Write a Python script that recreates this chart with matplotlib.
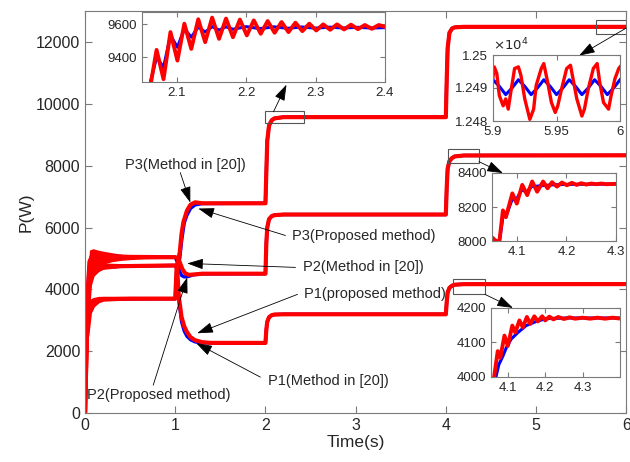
import numpy as np
import matplotlib.pyplot as plt
from matplotlib.patches import Rectangle

plt.rcParams['font.family'] = ['Liberation Sans', 'DejaVu Sans']

RED = '#ff0000'
BLUE = '#0000ff'
EDGE = '#7a7a7a'
TXT = '#262626'

# ---- main plot (t in s, P in W)
t_p3 = [0, 0.015, 0.03, 0.05, 0.07, 0.1, 0.2, 0.5, 1.0, 1.015, 1.03, 1.05, 1.07, 1.09, 1.13, 1.17, 1.22, 1.3,
        2.0, 2.01, 2.02, 2.04, 2.07, 2.1, 2.2, 4.0, 4.01, 4.02, 4.04, 4.07, 4.1, 4.2, 6.0]
p3_red = [0, 2000, 3300, 3600, 3350, 3550, 3690, 3700, 3700, 4700, 4900, 5200, 5800, 6170, 6550, 6740, 6815, 6784,
          6784, 7800, 8800, 9300, 9470, 9530, 9570, 9570, 10800, 11800, 12300, 12440, 12475, 12490, 12490]
t_p2 = [0, 0.015, 0.03, 0.05, 0.08, 0.2, 0.5, 1.0, 1.02, 1.04, 1.06, 1.08, 1.11, 1.15, 1.2, 1.3,
        2.0, 2.01, 2.02, 2.04, 2.07, 2.1, 2.2, 4.0, 4.01, 4.02, 4.04, 4.07, 4.1, 4.2, 6.0]
p2_red = [0, 2200, 4000, 4900, 5100, 5080, 5050, 5040, 5020, 4950, 4800, 4650, 4520, 4470, 4480, 4506,
          4506, 5500, 6000, 6270, 6370, 6400, 6420, 6420, 7300, 7900, 8150, 8250, 8300, 8330, 8335]
t_p1 = [0, 0.015, 0.03, 0.05, 0.08, 0.13, 0.2, 0.4, 1.0, 1.02, 1.04, 1.07, 1.1, 1.13, 1.17, 1.22, 1.3, 1.4,
        2.0, 2.01, 2.02, 2.04, 2.07, 2.1, 2.2, 4.0, 4.01, 4.02, 4.04, 4.07, 4.1, 4.2, 6.0]
p1_red = [0, 1800, 3500, 4200, 4450, 4600, 4700, 4750, 4774, 4700, 3750, 3106, 2800, 2620, 2450, 2355, 2290, 2268,
          2268, 2700, 2950, 3100, 3165, 3185, 3194, 3194, 3600, 3900, 4050, 4120, 4150, 4168, 4170]

# proposed method (blue) differs only in the t=1 transient
tb_p3 = [1.015, 1.03, 1.05, 1.07, 1.1, 1.13, 1.17, 1.22, 1.3]
p3_blue = [4600, 4750, 5000, 5550, 6150, 6400, 6620, 6730, 6775]
tb_p2 = [1.02, 1.04, 1.07, 1.1, 1.15, 1.2, 1.3]
p2_blue = [4900, 4650, 4450, 4400, 4420, 4470, 4500]
tb_p1 = [1.02, 1.04, 1.07, 1.1, 1.13, 1.17, 1.22, 1.3, 1.4]
p1_blue = [4650, 3650, 2950, 2650, 2480, 2370, 2300, 2270, 2268]

# oscillation envelopes during start-up (0..1 s)
t_band = [0.03, 0.06, 0.09, 0.15, 0.2, 0.3, 0.4, 0.5, 0.64, 0.8, 1.0]
p2_hi = [4200, 5250, 5280, 5230, 5200, 5150, 5100, 5075, 5050, 5045, 5040]
p2_lo = [3800, 4300, 4500, 4700, 4850, 4930, 4970, 4995, 5015, 5025, 5030]
p1_hi = [3800, 4450, 4650, 4780, 4820, 4810, 4800, 4795, 4790, 4790, 4785]
p1_lo = [3000, 4150, 4450, 4620, 4700, 4730, 4745, 4755, 4760, 4762, 4765]
p3_hi = [3500, 3650, 3700, 3740, 3740, 3735, 3730, 3725, 3720, 3720, 3720]
p3_lo = [2500, 3250, 3450, 3600, 3650, 3665, 3675, 3680, 3685, 3688, 3690]

# ---- inset A: P3 after t=2
ta_red = [2.061, 2.071, 2.081, 2.091, 2.101, 2.111, 2.121, 2.131, 2.141, 2.151, 2.161, 2.171, 2.181, 2.191,
          2.201, 2.211, 2.221, 2.231, 2.241, 2.251, 2.261, 2.271, 2.281, 2.291, 2.301, 2.311, 2.321, 2.331,
          2.341, 2.351, 2.361, 2.371, 2.381, 2.391, 2.4]
pa_red = [9200, 9445, 9267, 9553, 9380, 9604, 9451, 9631, 9492, 9641, 9512, 9635, 9522, 9629,
          9533, 9624, 9543, 9620, 9549, 9614, 9553, 9610, 9559, 9604, 9563, 9600, 9567, 9600,
          9569, 9598, 9571, 9596, 9573, 9596, 9585]
ta_blue = [2.061, 2.071, 2.081, 2.091, 2.101, 2.111, 2.121, 2.131, 2.141, 2.151, 2.161, 2.171, 2.181,
           2.2, 2.22, 2.24, 2.26, 2.28, 2.3, 2.32, 2.34, 2.36, 2.38, 2.4]
pa_blue = [9230, 9400, 9339, 9533, 9461, 9573, 9522, 9584, 9553, 9586, 9565, 9585, 9570,
           9586, 9574, 9585, 9576, 9584, 9577, 9583, 9578, 9582, 9578, 9580]

# ---- inset B: P3 near t=6
tb_red = [5.900, 5.901, 5.903, 5.905, 5.908, 5.910, 5.912, 5.914, 5.917, 5.920, 5.922, 5.925, 5.929, 5.932,
          5.934, 5.938, 5.940, 5.943, 5.946, 5.949, 5.951, 5.954, 5.958, 5.961, 5.963, 5.966, 5.970, 5.972,
          5.975, 5.979, 5.982, 5.984, 5.987, 5.991, 5.993, 5.996, 5.999, 6.000]
pb_red = [12493.3, 12496.4, 12494.4, 12487.7, 12484.6, 12486.7, 12483.6, 12488.7, 12495.9, 12496.4, 12493.8,
          12486.7, 12480.5, 12483.6, 12490.8, 12495.9, 12497.4, 12491.8, 12485.6, 12482.6, 12484.6, 12489.7,
          12495.9, 12496.9, 12492.8, 12486.7, 12481.5, 12483.6, 12489.7, 12495.9, 12497.4, 12491.8, 12485.6,
          12483.6, 12487.7, 12492.8, 12495.9, 12496.4]
tb_blue = [5.900, 5.905, 5.910, 5.915, 5.920, 5.925, 5.930, 5.935, 5.940, 5.945, 5.950, 5.955, 5.960,
           5.965, 5.970, 5.975, 5.980, 5.985, 5.990, 5.995, 6.000]
pb_blue = [12492.5, 12490.5, 12488.0, 12490.0, 12492.5, 12490.5, 12488.0, 12490.0, 12492.5, 12490.5, 12488.0,
           12490.0, 12492.5, 12490.5, 12488.0, 12490.0, 12492.5, 12490.5, 12488.0, 12490.0, 12492.5]

# ---- inset C: P2 after t=4
tc_red = [4.052, 4.058, 4.065, 4.072, 4.078, 4.091, 4.100, 4.111, 4.121, 4.131, 4.141, 4.153, 4.162, 4.171,
          4.181, 4.191, 4.201, 4.211, 4.221, 4.230, 4.240, 4.250, 4.260, 4.270, 4.280, 4.299]
pc_red = [8016, 8000, 8000, 8180, 8140, 8280, 8220, 8330, 8270, 8350, 8290, 8350, 8310, 8346,
          8320, 8344, 8328, 8342, 8330, 8340, 8332, 8338, 8334, 8338, 8334, 8336]
tc_blue = [4.065, 4.072, 4.080, 4.090, 4.100, 4.110, 4.120, 4.130, 4.150, 4.170, 4.200, 4.250, 4.299]
pc_blue = [8000, 8140, 8160, 8240, 8250, 8300, 8290, 8320, 8325, 8330, 8333, 8334, 8335]

# ---- inset D: P1 after t=4
td_red = [4.062, 4.073, 4.080, 4.091, 4.100, 4.112, 4.120, 4.131, 4.140, 4.151, 4.160, 4.171, 4.180, 4.192,
          4.200, 4.211, 4.222, 4.235, 4.250, 4.265, 4.280, 4.300, 4.320, 4.340, 4.360, 4.380, 4.395]
pd_red = [3990, 4075, 4056, 4120, 4090, 4149, 4129, 4164, 4144, 4174, 4154, 4176, 4161, 4176,
          4164, 4175, 4167, 4174, 4168, 4173, 4169, 4172, 4169, 4172, 4169, 4172, 4170]
td_blue = [4.066, 4.076, 4.087, 4.096, 4.109, 4.127, 4.149, 4.176, 4.202, 4.256, 4.395]
pd_blue = [3990, 4036, 4061, 4085, 4110, 4129, 4149, 4161, 4169, 4171, 4171]


def blue_curve(t_red, p_red, t_tr, p_tr):
    t_red = np.array(t_red)
    p_red = np.array(p_red)
    keep = (t_red <= 1.0) | (t_red > max(t_tr))
    t = np.concatenate([t_red[keep], t_tr])
    p = np.concatenate([p_red[keep], p_tr])
    order = np.argsort(t)
    return t[order], p[order]


def style_axes(a, fs):
    a.tick_params(direction='in', top=True, right=True, labelsize=fs, colors=EDGE,
                  labelcolor=TXT, length=3.5, width=0.8)
    for s in a.spines.values():
        s.set_color(EDGE)
        s.set_linewidth(0.8)


fig = plt.figure(figsize=(6.3, 4.62), dpi=100)
ax = fig.add_axes([0.135, 0.106, 0.859, 0.870])

for t, p, tt, pt in [(t_p3, p3_red, tb_p3, p3_blue), (t_p2, p2_red, tb_p2, p2_blue),
                     (t_p1, p1_red, tb_p1, p1_blue)]:
    tb, pb = blue_curve(t, p, tt, pt)
    ax.plot(tb, pb, color=BLUE, lw=2.4, solid_joinstyle='round')
for hi, lo in [(p2_hi, p2_lo), (p1_hi, p1_lo), (p3_hi, p3_lo)]:
    ax.fill_between(t_band, lo, hi, color=RED, lw=1.5, edgecolor=RED)
for t, p in [(t_p3, p3_red), (t_p2, p2_red), (t_p1, p1_red)]:
    ax.plot(t, p, color=RED, lw=3, solid_joinstyle='round')

ax.set_xlim(0, 6)
ax.set_ylim(0, 13000)
ax.set_xticks(range(7))
ax.set_yticks(range(0, 12001, 2000))
style_axes(ax, 11.5)
ax.tick_params(length=5)
ax.set_xlabel('Time(s)', fontsize=12.5, color=TXT)
ax.set_ylabel('P(W)', fontsize=12.5, color=TXT)
ax.xaxis.set_label_coords(0.5, -0.055)
ax.yaxis.set_label_coords(-0.095, 0.5)

# zoom boxes
for x0, x1, y0, y1 in [(2.0, 2.43, 9390, 9770), (5.67, 6.05, 12260, 12710),
                       (4.02, 4.37, 8100, 8550), (4.08, 4.43, 3840, 4320)]:
    ax.add_patch(Rectangle((x0, y0), x1 - x0, y1 - y0, fill=False, ec='#555555', lw=0.8, zorder=5))

arrow = dict(arrowstyle='-|>,head_length=0.9,head_width=0.3', color='black', lw=0.6,
             mutation_scale=11, shrinkA=0, shrinkB=0)
for tail, head in [((2.089, 9742), (2.233, 10620)), ((6.0, 12452), (5.478, 11560)),
                   ((4.367, 8129), (4.633, 7760)), ((4.433, 3839), (4.744, 3400))]:
    ax.annotate('', xy=head, xytext=tail, arrowprops=arrow, zorder=6)

# labels with arrows
notes = [('P3(Method in [20])', (0.444, 8032), (1.056, 7774), (1.167, 6806)),
         ('P3(Proposed method)', (2.30, 5710), (2.222, 5742), (1.256, 6613)),
         ('P2(Method in [20])', (2.411, 4710), (2.333, 4710), (1.133, 4839)),
         ('P1(proposed method)', (2.422, 3839), (2.356, 3839), (1.244, 2581)),
         ('P1(Method in [20])', (2.033, 1032), (1.944, 1161), (1.233, 2258)),
         ('P2(Proposed method)', (0.022, 581), (0.756, 903), (1.133, 4387))]
for label, pos, tail, head in notes:
    ax.text(pos[0], pos[1], label, fontsize=10.5, color=TXT, va='center', ha='left', zorder=7)
    ax.annotate('', xy=head, xytext=tail, arrowprops=arrow, zorder=6)

W, H = 630, 462


def inset(x0, y0, x1, y1):
    return fig.add_axes([x0 / W, (H - y1) / H, (x1 - x0) / W, (y1 - y0) / H])


# inset A
ia = inset(142, 12, 385, 82)
ia.plot(ta_blue, pa_blue, color=BLUE, lw=2.2, solid_joinstyle='round')
ia.plot(ta_red, pa_red, color=RED, lw=2.8, solid_joinstyle='round')
ia.set_xlim(2.05, 2.4)
ia.set_ylim(9250, 9675)
ia.set_xticks([2.1, 2.2, 2.3, 2.4])
ia.set_yticks([9400, 9600])
style_axes(ia, 9.5)

# inset B
ib = inset(493, 55, 620, 121)
ib.plot(tb_blue, pb_blue, color=BLUE, lw=2.2, solid_joinstyle='round')
ib.plot(tb_red, pb_red, color=RED, lw=2.4, solid_joinstyle='round')
ib.set_xlim(5.9, 6.0)
ib.set_ylim(12480, 12500)
ib.set_xticks([5.9, 5.95, 6.0])
ib.set_xticklabels(['5.9', '5.95', '6'])
ib.set_yticks([12480, 12490, 12500])
ib.set_yticklabels(['1.248', '1.249', '1.25'])
style_axes(ib, 9.5)
ib.text(0.0, 1.03, r'$\times10^4$', transform=ib.transAxes, fontsize=9.5, color=TXT,
        ha='left', va='bottom')

# inset C
ic = inset(492, 173, 616, 241)
ic.plot(tc_blue, pc_blue, color=BLUE, lw=2.2, solid_joinstyle='round')
ic.plot(tc_red, pc_red, color=RED, lw=2.8, solid_joinstyle='round')
ic.set_xlim(4.05, 4.3)
ic.set_ylim(8000, 8400)
ic.set_xticks([4.1, 4.2, 4.3])
ic.set_yticks([8000, 8200, 8400])
style_axes(ic, 9.5)

# inset D
idd = inset(491, 308, 620, 377)
idd.plot(td_blue, pd_blue, color=BLUE, lw=2.2, solid_joinstyle='round')
idd.plot(td_red, pd_red, color=RED, lw=2.8, solid_joinstyle='round')
idd.set_xlim(4.055, 4.4)
idd.set_ylim(4000, 4200)
idd.set_xticks([4.1, 4.2, 4.3])
idd.set_yticks([4000, 4100, 4200])
style_axes(idd, 9.5)

fig.savefig('out.png', dpi=100)
